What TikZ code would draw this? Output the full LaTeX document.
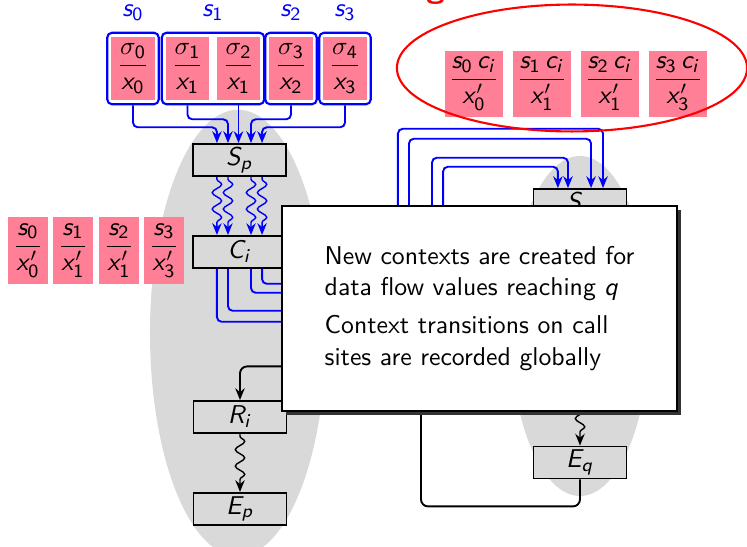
\documentclass[tikz,border=0pt,11pt]{standalone}
\usetikzlibrary{
    arrows.meta,
    decorations.pathmorphing,
    positioning,
    fit,
    shadows,
    shapes.geometric
}
\SetSymbolFont{operators}{normal}{OT1}{cmss}{m}{n}
\DeclareSymbolFont{sfitalic}{OT1}{cmss}{m}{sl}
\DeclareMathSymbol{s}{\mathalpha}{sfitalic}{`s}
\DeclareMathSymbol{x}{\mathalpha}{sfitalic}{`x}
\DeclareMathSymbol{c}{\mathalpha}{sfitalic}{`c}
\DeclareMathSymbol{i}{\mathalpha}{sfitalic}{`i}
\DeclareMathSymbol{p}{\mathalpha}{sfitalic}{`p}
\DeclareMathSymbol{q}{\mathalpha}{sfitalic}{`q}
\DeclareMathSymbol{S}{\mathalpha}{sfitalic}{`S}
\DeclareMathSymbol{C}{\mathalpha}{sfitalic}{`C}
\DeclareMathSymbol{R}{\mathalpha}{sfitalic}{`R}
\DeclareMathSymbol{E}{\mathalpha}{sfitalic}{`E}
\definecolor{valpink}{RGB}{255,128,150}
\definecolor{regiongray}{gray}{0.85}

\begin{document}
\begin{tikzpicture}[x=0.4255pt, y=-0.4255pt, >={Stealth[length=5pt,width=4pt]},
    font=\sffamily,
    val/.style={fill=valpink, inner sep=0pt, minimum width=18.3pt, minimum height=26.8pt},
    lval/.style={val, minimum width=17pt, minimum height=28.5pt},
    rval/.style={val, minimum width=24.7pt, minimum height=28.1pt},
    grp/.style={draw=blue, line width=0.9pt, rounded corners=2pt, inner sep=1.6pt},
    blk/.style={draw, line width=0.8pt, fill=regiongray, inner sep=0pt,
                minimum width=39.6pt, minimum height=13.6pt},
    region/.style={ellipse, fill=regiongray, inner sep=0pt},
    flow/.style={->, blue, line width=0.8pt, rounded corners=2pt},
    wave/.style={->, line width=0.6pt, decorate, decoration={snake, amplitude=2pt,
                 segment length=7pt, pre length=1pt, post length=4pt}}]
    \useasboundingbox (0,0) rectangle (747,547);
    \node[region, minimum width=74.9pt, minimum height=190pt] (preg) at (238,333) {};
    \node[region, minimum width=59.6pt, minimum height=144.7pt] (qreg) at (580,326) {};

    \node[val] (v0) at (133,68.5) {$\displaystyle\frac{\sigma_0}{x_0}$};
    \node[val] (v1) at (187.5,68.5) {$\displaystyle\frac{\sigma_1}{x_1}$};
    \node[val] (v2) at (238.5,68.5) {$\displaystyle\frac{\sigma_2}{x_1}$};
    \node[val] (v3) at (291,68.5) {$\displaystyle\frac{\sigma_3}{x_2}$};
    \node[val] (v4) at (345,68.5) {$\displaystyle\frac{\sigma_4}{x_3}$};
    \node[grp, fit=(v0)] (g0) {};
    \node[grp, fit=(v1)(v2)] (g1) {};
    \node[grp, fit=(v3)] (g2) {};
    \node[grp, fit=(v4)] (g3) {};
    \node[blue, inner sep=1pt, above=3.5pt of g0] (s0) {$s_0$};
    \node[blue, inner sep=1pt, above=3.5pt of g1] (s1) {$s_1$};
    \node[blue, inner sep=1pt, above=3.5pt of g2] (s2) {$s_2$};
    \node[blue, inner sep=1pt, above=3.5pt of g3] (s3) {$s_3$};

    \node[lval] (w0) at (28,250.5) {$\displaystyle\frac{s_0}{x'_0}$};
    \node[lval] (w1) at (73,250.5) {$\displaystyle\frac{s_1}{x'_1}$};
    \node[lval] (w2) at (119,250.5) {$\displaystyle\frac{s_2}{x'_1}$};
    \node[lval] (w3) at (164,250.5) {$\displaystyle\frac{s_3}{x'_3}$};

    \node[rval] (t0) at (474,84) {$\displaystyle\frac{s_0\,c_i}{x'_0}$};
    \node[rval] (t1) at (542,84) {$\displaystyle\frac{s_1\,c_i}{x'_1}$};
    \node[rval] (t2) at (610,84) {$\displaystyle\frac{s_2\,c_i}{x'_1}$};
    \node[rval] (t3) at (678,84) {$\displaystyle\frac{s_3\,c_i}{x'_3}$};

    \node[blk] (sp) at (239.5,160) {$S_p$};
    \node[blk, below=24.7pt of sp] (ci) {$C_i$};
    \node[blk] (ri) at (240,417) {$R_i$};
    \node[blk, below=24.7pt of ri] (ep) {$E_p$};
    \node[blk] (sq) at (580,205) {$S_q$};
    \node[blk] (eq) at (580,462.5) {$E_q$};

    \draw[flow] (v0.south |- g0.south) -- ++(0,22) -| ([xshift=-9.6pt]sp.north);
    \draw[flow] (v1.south |- g1.south) -- ++(0,14) -| ([xshift=-4.9pt]sp.north);
    \draw[flow] (v2.south |- g1.south) -- (v2.south |- sp.north);
    \draw[flow] (v3.south |- g2.south) -- ++(0,14) -| ([xshift=4.9pt]sp.north);
    \draw[flow] (v4.south |- g3.south) -- ++(0,22) -| ([xshift=9.6pt]sp.north);

    \foreach \dx in {-9.6,-4.9,4.9,9.6}
        \draw[wave, blue] ([xshift=\dx pt]sp.south) -- ([xshift=\dx pt]ci.north);

    \foreach \a/\d/\h/\b in {-9.6/53/193/9.8, -4.9/42/172/4.7, 4.9/24/135/-5.1, 9.6/15/117/-9.4}
        \draw[flow] ([xshift=\a pt]ci.south) -- ++(0,\d) -- ++(181,0) -- ++(0,-\h)
            -| ([xshift=\b pt]sq.north);

    \draw[wave] (ri) -- (ep);
    \draw[wave] (sq) -- (eq);
    \draw[->, line width=0.8pt, rounded corners=3pt] (eq.south) -- ++(0,27) -- ++(-159,0)
        -- ++(0,-140) -| (ri.north);

    \node[ellipse, draw=red, line width=0.9pt, inner sep=0pt,
          minimum width=149pt, minimum height=54pt] (tab) at (572,68) {};

    \node[draw, line width=1pt, fill=white, align=left,
          minimum width=168pt, minimum height=87.2pt,
          drop shadow={shadow xshift=1.6pt, shadow yshift=-1.6pt, fill=black!80, opacity=1}]
          (note) at (479.5,308.5)
          {New contexts are created for\\ data flow values reaching $q$\\[2.5pt]
           Context transitions on call\\ sites are recorded globally};

    \node[red, font=\sffamily\Large\bfseries, anchor=base] (head) at (436,-2.5) {g};
\end{tikzpicture}
\end{document}
